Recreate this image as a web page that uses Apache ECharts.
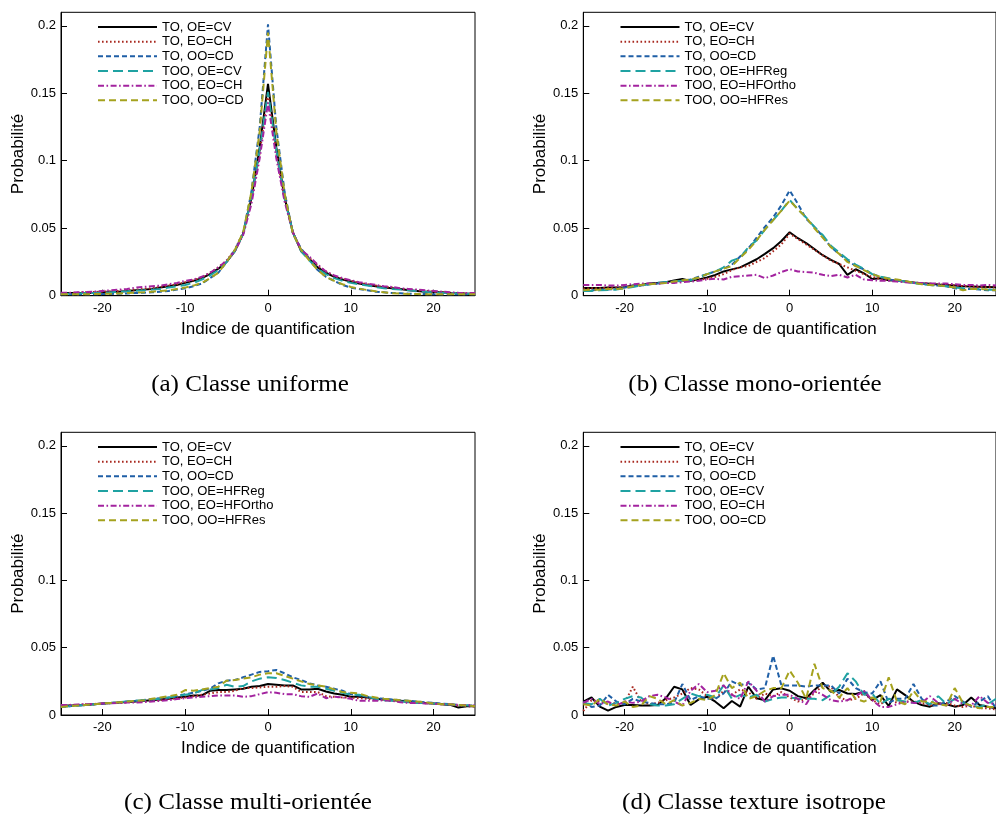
<!DOCTYPE html>
<html><head><meta charset="utf-8">
<script src="https://cdn.jsdelivr.net/npm/echarts@6/dist/echarts.min.js"></script>
<style>html,body{margin:0;padding:0;background:#fff}#c{width:996px;height:819px}</style>
</head><body><div id="c"></div>
<script>
const xValues = [-25,-24,-23,-22,-21,-20,-19,-18,-17,-16,-15,-14,-13,-12,-11,-10,-9,-8,-7,-6,-5,-4,-3,-2,-1,0,1,2,3,4,5,6,7,8,9,10,11,12,13,14,15,16,17,18,19,20,21,22,23,24,25];
const xTickValues = [-20,-10,0,10,20];
const yTickValues = [0,0.05,0.1,0.15,0.2];

const namesA = ['TO, OE=CV','TO, EO=CH','TO, OO=CD','TOO, OE=CV','TOO, EO=CH','TOO, OO=CD'];
const namesB = ['TO, OE=CV','TO, EO=CH','TO, OO=CD','TOO, OE=HFReg','TOO, EO=HFOrtho','TOO, OO=HFRes'];
const namesC = ['TO, OE=CV','TO, EO=CH','TO, OO=CD','TOO, OE=HFReg','TOO, EO=HFOrtho','TOO, OO=HFRes'];
const namesD = ['TO, OE=CV','TO, EO=CH','TO, OO=CD','TOO, OE=CV','TOO, EO=CH','TOO, OO=CD'];
const captions = ['(a) Classe uniforme','(b) Classe mono-orientée','(c) Classe multi-orientée','(d) Classe texture isotrope'];
const xAxisTitle = 'Indice de quantification';
const yAxisTitle = 'Probabilité';

// (a) Classe uniforme
const aBlack = [0.002,0.002,0.002,0.002,0.0022,0.0025,0.003,0.003,0.0035,0.004,0.0045,0.005,0.006,0.007,0.008,0.0095,0.011,0.013,0.016,0.02,0.025,0.033,0.046,0.072,0.11,0.157,0.11,0.073,0.047,0.033,0.027,0.021,0.017,0.014,0.012,0.0105,0.009,0.008,0.007,0.006,0.0055,0.005,0.004,0.0035,0.003,0.003,0.0025,0.002,0.002,0.0015,0.0015];
const aRed = [0.002,0.002,0.0022,0.0025,0.0027,0.003,0.0032,0.0035,0.004,0.0045,0.005,0.0055,0.0065,0.0075,0.0085,0.01,0.0115,0.0135,0.017,0.021,0.026,0.034,0.047,0.071,0.106,0.15,0.106,0.072,0.047,0.034,0.028,0.022,0.018,0.0145,0.0125,0.011,0.0095,0.0085,0.0075,0.0065,0.006,0.005,0.0045,0.004,0.0035,0.003,0.0025,0.002,0.002,0.0015,0.0015];
const aBlue = [0.001,0.001,0.001,0.001,0.001,0.0012,0.0013,0.0015,0.0017,0.002,0.0022,0.0025,0.003,0.0035,0.0045,0.0055,0.007,0.009,0.013,0.017,0.025,0.034,0.046,0.077,0.125,0.201,0.125,0.077,0.046,0.035,0.027,0.019,0.014,0.011,0.008,0.006,0.005,0.004,0.003,0.0025,0.002,0.0018,0.0015,0.0013,0.0012,0.001,0.001,0.001,0.001,0.001,0.001];
const aTeal = [0.0015,0.0015,0.0017,0.002,0.002,0.0022,0.0025,0.003,0.0033,0.0037,0.004,0.0045,0.005,0.006,0.007,0.008,0.0095,0.012,0.015,0.019,0.025,0.033,0.046,0.072,0.108,0.151,0.108,0.072,0.047,0.033,0.026,0.02,0.016,0.013,0.011,0.0095,0.0085,0.0075,0.0065,0.0055,0.005,0.0045,0.004,0.0035,0.003,0.0025,0.0022,0.002,0.0017,0.0015,0.0015];
const aMagenta = [0.0022,0.0022,0.0025,0.0028,0.003,0.0035,0.004,0.0045,0.005,0.006,0.0065,0.007,0.0075,0.0085,0.0095,0.011,0.012,0.014,0.017,0.021,0.026,0.033,0.045,0.068,0.102,0.143,0.102,0.07,0.047,0.034,0.029,0.023,0.018,0.015,0.013,0.0115,0.01,0.009,0.008,0.007,0.0065,0.0055,0.005,0.0045,0.004,0.0035,0.003,0.0025,0.0022,0.002,0.002];
const aOlive = [0.001,0.001,0.001,0.0011,0.0012,0.0013,0.0015,0.0017,0.002,0.0022,0.0025,0.003,0.0035,0.004,0.005,0.006,0.0075,0.0095,0.013,0.017,0.025,0.034,0.047,0.077,0.122,0.195,0.122,0.076,0.046,0.034,0.026,0.019,0.014,0.011,0.0085,0.0065,0.0052,0.0042,0.0033,0.0025,0.0018,0.0015,0.0013,0.0012,0.0011,0.001,0.001,0.001,0.001,0.001,0.001];

// (b) Classe mono-orientée
const bBlack = [0.0057,0.0057,0.0057,0.006,0.006,0.0062,0.0075,0.008,0.009,0.0095,0.01,0.0112,0.0124,0.011,0.012,0.0136,0.0154,0.018,0.0195,0.021,0.024,0.027,0.031,0.0352,0.0405,0.047,0.0426,0.039,0.0345,0.03,0.0265,0.0235,0.0154,0.0196,0.0166,0.0124,0.013,0.0115,0.011,0.0105,0.0098,0.0092,0.0088,0.0083,0.008,0.0075,0.007,0.0068,0.0066,0.0064,0.0062];
const bRed = [0.0052,0.0055,0.0055,0.0058,0.006,0.0065,0.007,0.0078,0.0085,0.009,0.0095,0.0105,0.011,0.0115,0.012,0.0125,0.014,0.016,0.019,0.021,0.022,0.025,0.028,0.033,0.038,0.046,0.042,0.038,0.034,0.03,0.026,0.0235,0.021,0.0185,0.016,0.014,0.0125,0.0115,0.011,0.0105,0.0098,0.0093,0.0088,0.0083,0.008,0.0075,0.0072,0.0068,0.0065,0.0062,0.006];
const bBlue = [0.004,0.004,0.0045,0.0045,0.005,0.006,0.007,0.0075,0.0085,0.009,0.01,0.0105,0.011,0.012,0.014,0.016,0.018,0.02,0.023,0.029,0.035,0.043,0.051,0.058,0.067,0.078,0.068,0.057,0.051,0.044,0.036,0.031,0.026,0.022,0.0195,0.016,0.014,0.012,0.011,0.0105,0.0095,0.009,0.008,0.0075,0.007,0.0055,0.005,0.005,0.0045,0.004,0.004];
const bTeal = [0.0035,0.0035,0.004,0.0042,0.0045,0.0055,0.0065,0.0075,0.0085,0.0095,0.01,0.0105,0.011,0.0115,0.0135,0.016,0.018,0.021,0.026,0.028,0.036,0.041,0.049,0.056,0.063,0.071,0.064,0.058,0.051,0.045,0.037,0.032,0.027,0.023,0.02,0.016,0.014,0.013,0.0115,0.0105,0.0095,0.0085,0.008,0.0075,0.007,0.006,0.0055,0.005,0.005,0.0045,0.0045];
const bMagenta = [0.008,0.008,0.008,0.0075,0.0075,0.008,0.0085,0.009,0.009,0.009,0.0095,0.0095,0.01,0.0105,0.011,0.012,0.0125,0.012,0.014,0.0145,0.015,0.0155,0.013,0.015,0.0175,0.0196,0.018,0.0175,0.017,0.0155,0.0145,0.0155,0.0135,0.0155,0.012,0.0115,0.011,0.011,0.0105,0.01,0.0095,0.0095,0.009,0.009,0.009,0.0085,0.008,0.008,0.0075,0.008,0.0075];
const bOlive = [0.004,0.0045,0.0045,0.005,0.005,0.0055,0.007,0.008,0.0085,0.009,0.0095,0.0105,0.0115,0.012,0.0135,0.016,0.018,0.02,0.022,0.028,0.034,0.041,0.049,0.056,0.063,0.0705,0.064,0.058,0.05,0.043,0.036,0.031,0.025,0.022,0.019,0.016,0.014,0.0125,0.012,0.011,0.0095,0.0085,0.008,0.0075,0.007,0.006,0.004,0.005,0.005,0.0045,0.004];

// (c) Classe multi-orientée
const cBlack = [0.007,0.007,0.0072,0.0075,0.008,0.0085,0.009,0.0093,0.0097,0.01,0.0105,0.011,0.0115,0.012,0.013,0.0135,0.0145,0.0145,0.018,0.0185,0.0185,0.019,0.0195,0.021,0.0215,0.023,0.0225,0.022,0.022,0.019,0.019,0.0195,0.0175,0.016,0.015,0.0135,0.0135,0.013,0.012,0.0115,0.011,0.0105,0.01,0.0095,0.009,0.0085,0.008,0.0075,0.0055,0.0065,0.0065];
const cRed = [0.007,0.0072,0.0075,0.008,0.008,0.0085,0.0088,0.009,0.0095,0.01,0.0103,0.0107,0.011,0.0118,0.0125,0.013,0.014,0.015,0.016,0.017,0.017,0.018,0.02,0.02,0.0205,0.021,0.021,0.0215,0.021,0.017,0.017,0.017,0.014,0.0135,0.013,0.013,0.0125,0.012,0.0115,0.011,0.0105,0.01,0.0095,0.009,0.0088,0.0085,0.008,0.0075,0.007,0.0065,0.0062];
const cBlue = [0.006,0.0065,0.007,0.0075,0.008,0.0083,0.0088,0.0095,0.01,0.0105,0.0111,0.0118,0.0125,0.013,0.014,0.0155,0.0165,0.018,0.0195,0.0235,0.0255,0.026,0.028,0.03,0.032,0.0325,0.0335,0.031,0.028,0.026,0.0235,0.022,0.021,0.0195,0.018,0.0155,0.0145,0.0135,0.0125,0.012,0.0116,0.011,0.0105,0.01,0.0095,0.009,0.0085,0.008,0.0075,0.007,0.007];
const cTeal = [0.006,0.0065,0.007,0.0075,0.008,0.0085,0.009,0.0095,0.01,0.0105,0.011,0.0115,0.012,0.013,0.014,0.015,0.016,0.0185,0.019,0.02,0.0225,0.021,0.0215,0.025,0.027,0.028,0.0275,0.026,0.024,0.022,0.021,0.021,0.0195,0.018,0.0165,0.015,0.015,0.0135,0.012,0.011,0.0105,0.01,0.0095,0.009,0.0088,0.0085,0.008,0.0078,0.0075,0.0072,0.007];
const cMagenta = [0.0075,0.0075,0.0078,0.008,0.0082,0.0085,0.0087,0.009,0.0092,0.0093,0.0095,0.01,0.0105,0.011,0.0118,0.0125,0.013,0.0135,0.014,0.0145,0.0145,0.0145,0.0135,0.014,0.0155,0.017,0.0165,0.0155,0.0155,0.014,0.0135,0.016,0.0125,0.0135,0.013,0.012,0.0105,0.0105,0.0105,0.011,0.0105,0.0095,0.009,0.009,0.0085,0.0085,0.008,0.008,0.0075,0.0075,0.007];
const cOlive = [0.006,0.0065,0.007,0.0075,0.008,0.0085,0.009,0.0095,0.01,0.0105,0.011,0.012,0.013,0.014,0.015,0.0185,0.018,0.019,0.02,0.021,0.0255,0.026,0.027,0.028,0.03,0.031,0.031,0.029,0.027,0.025,0.023,0.022,0.021,0.019,0.017,0.0165,0.016,0.014,0.013,0.012,0.0115,0.011,0.0105,0.01,0.0095,0.0085,0.008,0.008,0.0075,0.007,0.0065];

// (d) Classe texture isotrope
const dBlack = [0.0099,0.013,0.0062,0.0032,0.006,0.0074,0.0074,0.007,0.007,0.0074,0.0124,0.021,0.019,0.0074,0.0116,0.0136,0.0099,0.005,0.0104,0.0062,0.021,0.0124,0.011,0.019,0.0198,0.018,0.014,0.0124,0.0186,0.024,0.0173,0.0186,0.016,0.0156,0.0173,0.011,0.0148,0.0067,0.019,0.0148,0.0099,0.0074,0.0062,0.0087,0.008,0.0062,0.0074,0.013,0.0074,0.0062,0.005];
const dRed = [0.003,0.011,0.01,0.008,0.009,0.009,0.021,0.01,0.008,0.009,0.011,0.013,0.016,0.02,0.019,0.014,0.012,0.018,0.015,0.019,0.017,0.012,0.016,0.014,0.017,0.013,0.01,0.012,0.016,0.022,0.021,0.013,0.011,0.012,0.016,0.011,0.008,0.012,0.009,0.01,0.01,0.009,0.007,0.008,0.009,0.007,0.006,0.007,0.005,0.005,0.004];
const dBlue = [0.01,0.006,0.007,0.015,0.01,0.008,0.012,0.01,0.009,0.008,0.008,0.009,0.023,0.011,0.014,0.012,0.012,0.016,0.025,0.022,0.024,0.019,0.02,0.044,0.022,0.022,0.022,0.021,0.022,0.022,0.022,0.016,0.027,0.02,0.017,0.016,0.025,0.009,0.012,0.012,0.023,0.012,0.007,0.007,0.01,0.014,0.01,0.006,0.01,0.014,0.005];
const dTeal = [0.009,0.008,0.012,0.007,0.009,0.012,0.014,0.013,0.008,0.007,0.007,0.008,0.012,0.016,0.014,0.015,0.013,0.022,0.012,0.015,0.013,0.015,0.01,0.012,0.013,0.013,0.012,0.012,0.012,0.011,0.015,0.021,0.031,0.025,0.015,0.016,0.008,0.012,0.011,0.01,0.009,0.011,0.008,0.014,0.008,0.012,0.009,0.007,0.006,0.008,0.012];
const dMagenta = [0.009,0.012,0.008,0.01,0.007,0.01,0.009,0.01,0.014,0.015,0.013,0.01,0.007,0.018,0.023,0.017,0.018,0.022,0.015,0.012,0.025,0.018,0.01,0.014,0.015,0.015,0.012,0.008,0.018,0.015,0.011,0.01,0.011,0.014,0.018,0.011,0.006,0.006,0.008,0.01,0.009,0.009,0.014,0.009,0.007,0.012,0.008,0.007,0.014,0.009,0.008];
const dOlive = [0.008,0.007,0.012,0.008,0.007,0.01,0.006,0.007,0.014,0.012,0.008,0.011,0.007,0.009,0.012,0.011,0.015,0.031,0.02,0.024,0.012,0.014,0.018,0.02,0.02,0.033,0.024,0.012,0.038,0.02,0.018,0.013,0.02,0.012,0.01,0.013,0.01,0.028,0.01,0.008,0.018,0.01,0.01,0.008,0.007,0.02,0.009,0.007,0.005,0.006,0.006];

const panels = [
  {names: namesA, data: [aBlack, aRed, aBlue, aTeal, aMagenta, aOlive]},
  {names: namesB, data: [bBlack, bRed, bBlue, bTeal, bMagenta, bOlive]},
  {names: namesC, data: [cBlack, cRed, cBlue, cTeal, cMagenta, cOlive]},
  {names: namesD, data: [dBlack, dRed, dBlue, dTeal, dMagenta, dOlive]}
];

const lineStyles = [
  {color:'#000000', type:'solid'},
  {color:'#a8281f', type:[1.6,2.4]},
  {color:'#1f5fa6', type:[5,3]},
  {color:'#1fa2a2', type:[10,5]},
  {color:'#a3239f', type:[6,2.5,1.6,2.5]},
  {color:'#a5a21e', type:[7,4]}
];

const FONT = 'Liberation Sans';
const grids = [
  {left:61, top:12.3, width:414, height:283.4},
  {left:583.3, top:12.3, width:412.7, height:283.4},
  {left:61, top:432.3, width:414, height:282.7},
  {left:583.3, top:432.3, width:412.7, height:282.7}
];
const legendPos = [
  {left:97, top:20.5},
  {left:619.5, top:20.5},
  {left:97, top:440.5},
  {left:619.5, top:440.5}
];
const captionPos = [[250,385],[755,385],[248,803],[754,803]];

const option = {
  animation:false,
  backgroundColor:'#ffffff',
  grid: grids.map(g => Object.assign({show:true, borderColor:'#000', borderWidth:1, backgroundColor:'transparent'}, g)),
  xAxis: grids.map((g,i) => ({
    type:'value', gridIndex:i, min:-25, max:25,
    axisLine:{show:true, onZero:false, lineStyle:{color:'#000', width:1}},
    axisTick:{show:true, inside:true, length:6, customValues:xTickValues, lineStyle:{color:'#000', width:1}},
    axisLabel:{customValues:xTickValues, color:'#000', fontSize:13, fontFamily:FONT, margin:6},
    splitLine:{show:false},
    name:xAxisTitle, nameLocation:'middle', nameGap:25,
    nameTextStyle:{fontSize:17, fontFamily:FONT, color:'#000'}
  })),
  yAxis: grids.map((g,i) => ({
    type:'value', gridIndex:i, min:0, max:0.21,
    axisLine:{show:true, onZero:false, lineStyle:{color:'#000', width:1}},
    axisTick:{show:true, inside:true, length:6, customValues:yTickValues, lineStyle:{color:'#000', width:1}},
    axisLabel:{customValues:yTickValues, color:'#000', fontSize:13, fontFamily:FONT, margin:5},
    splitLine:{show:false},
    name:yAxisTitle, nameLocation:'middle', nameGap:33, nameRotate:90,
    nameTextStyle:{fontSize:17, fontFamily:FONT, color:'#000'}
  })),
  legend: panels.map((p,i) => ({
    data:p.names, orient:'vertical', left:legendPos[i].left, top:legendPos[i].top,
    itemWidth:59, itemHeight:14, itemGap:1.66, padding:0, selectedMode:false,
    itemStyle:{color:'rgba(0,0,0,0)', borderColor:'rgba(0,0,0,0)', borderWidth:0, opacity:0},
    textStyle:{fontSize:13, fontFamily:FONT, color:'#000'}
  })),
  series: [],
  graphic: captions.map((t,i) => ({
    type:'text', x:captionPos[i][0], y:captionPos[i][1], scaleX:1.09,
    style:{text:t, fill:'#000', font:'23px "Liberation Serif"', textAlign:'center', textVerticalAlign:'middle'}
  }))
};

panels.forEach((p,pi) => {
  p.data.forEach((arr,si) => {
    option.series.push({
      type:'line', name:p.names[si], xAxisIndex:pi, yAxisIndex:pi,
      symbol:'none', showSymbol:false, smooth:false, clip:true,
      lineStyle:{color:lineStyles[si].color, type:lineStyles[si].type, width:2},
      itemStyle:{color:lineStyles[si].color},
      data: xValues.map((x,k) => [x, arr[k]])
    });
  });
});

const chart = echarts.init(document.getElementById('c'), null, {renderer:'canvas'});
chart.setOption(option);
</script>
</body></html>
